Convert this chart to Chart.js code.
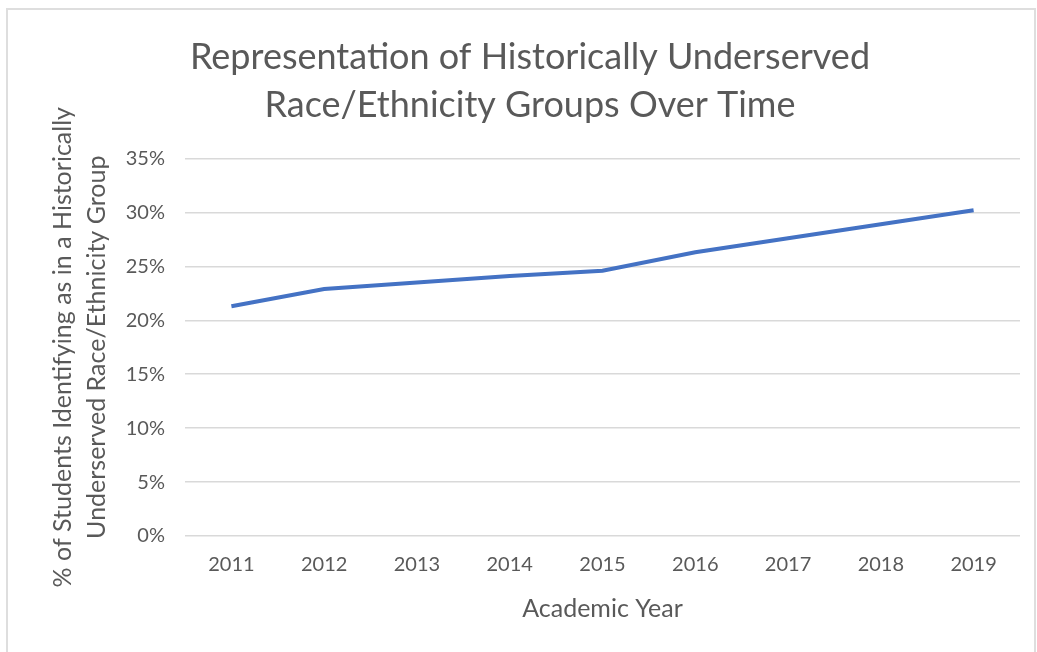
<!DOCTYPE html>
<html>
<head>
<meta charset="utf-8">
<script src="https://cdn.jsdelivr.net/npm/chart.js@4/dist/chart.umd.min.js"></script>
<style>
    html, body { margin: 0; padding: 0; background: #fff; }
    .frame {
        position: absolute; left: 6px; top: 8px;
        width: 1026px; height: 700px;
        border: 2px solid #dedede; border-bottom: none;
    }
    .wrap { position: absolute; left: 0; top: 0; width: 1037px; height: 652px; }
</style>
</head>
<body>
<div class="frame"></div>
<div class="wrap"><canvas id="chart" width="1037" height="652"></canvas></div>
<script>
// Số liệu theo năm học
const years = ['2011', '2012', '2013', '2014', '2015', '2016', '2017', '2018', '2019'];
const underservedPct = [21.3, 22.9, 23.5, 24.1, 24.6, 26.3, 27.6, 28.9, 30.2];
const yTicks = [0, 5, 10, 15, 20, 25, 30, 35];

const grey = '#595959';
const fontFamily = 'Lato, "Open Sans", sans-serif';

const ctx = document.getElementById('chart').getContext('2d');
const chart = new Chart(ctx, {
    type: 'line',
    data: {
        labels: years,
        datasets: [{
            label: 'Underserved',
            data: underservedPct,
            borderColor: '#4472C4',
            borderWidth: 4,
            pointRadius: 0,
            tension: 0,
            fill: false
        }]
    },
    options: {
        responsive: false,
        animation: false,
        layout: { padding: { left: 40, right: 17, top: 0, bottom: 28 } },
        plugins: {
            legend: { display: false },
            tooltip: { enabled: false },
            title: {
                display: true,
                text: ['Representation of Historically Underserved', 'Race/Ethnicity Groups Over Time'],
                color: grey,
                font: { family: fontFamily, size: 36, weight: 'normal', lineHeight: 1.34 },
                padding: { top: 33, bottom: 29 }
            }
        },
        scales: {
            x: {
                offset: true,
                grid: { display: false, drawTicks: false },
                border: { display: false },
                ticks: { color: grey, font: { family: fontFamily, size: 20 }, padding: 17 },
                title: {
                    display: true,
                    text: 'Academic Year',
                    color: grey,
                    font: { family: fontFamily, size: 25 },
                    padding: { top: 0, bottom: 0 }
                }
            },
            y: {
                min: 0,
                max: 35,
                afterBuildTicks: (scale) => {
                    scale.ticks = yTicks.map(v => ({ value: v }));
                },
                afterFit: (scale) => { scale.width = 145; },
                grid: { color: '#d9d9d9', lineWidth: 1.5, drawTicks: false },
                border: { display: false },
                ticks: {
                    color: grey,
                    font: { family: fontFamily, size: 20 },
                    padding: 20,
                    callback: (v) => v + '%'
                },
                title: {
                    display: true,
                    text: ['% of Students Identifying as in a Historically', 'Underserved Race/Ethnicity Group'],
                    color: grey,
                    font: { family: fontFamily, size: 25, lineHeight: 1.36 },
                    padding: { top: 6, bottom: 0 }
                }
            }
        }
    }
});
</script>
</body>
</html>
